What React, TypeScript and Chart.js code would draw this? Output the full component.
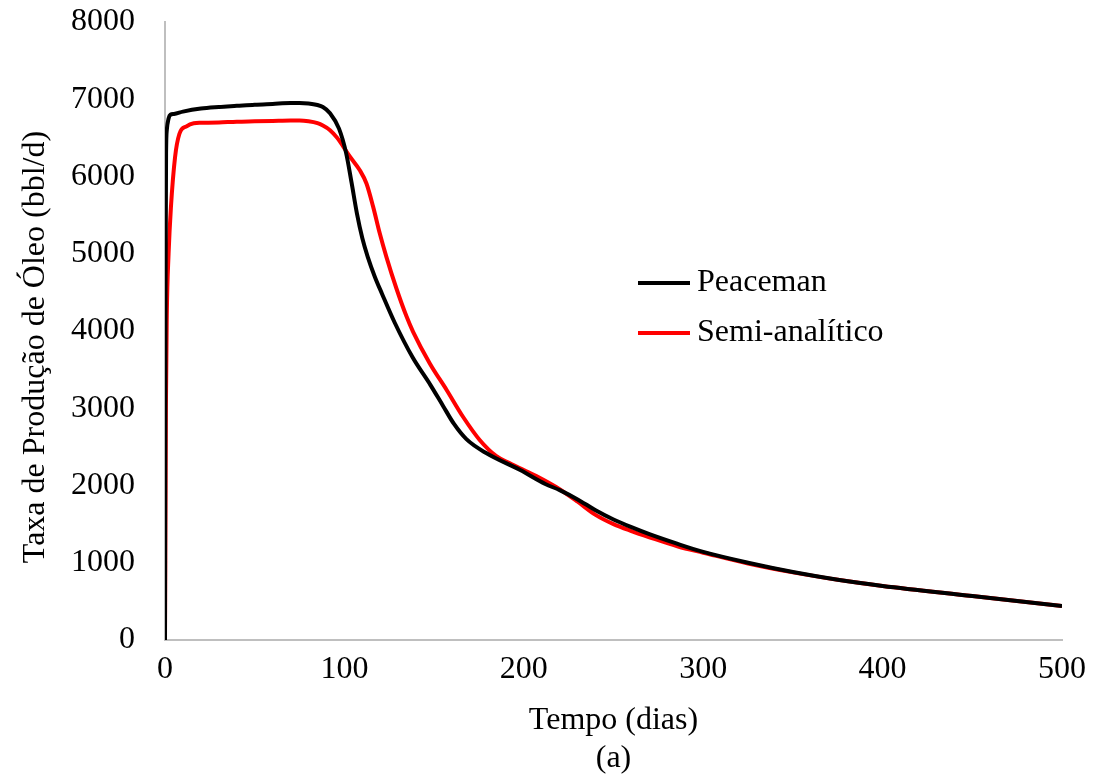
import React, { useEffect, useRef } from 'react';
import { Chart, registerables } from 'chart.js';

Chart.register(...registerables);

const daysPeaceman = [0, 0.3, 0.6, 1, 2, 3, 5, 10, 20, 30, 40, 50, 60, 70, 75, 80, 85, 88, 92, 97, 101, 104, 107, 110, 113, 117, 121, 128, 138, 148, 155, 161, 168, 179, 198, 212, 220, 230, 240, 250, 260, 270, 285, 300, 325, 350, 375, 400, 450, 500];
const ratePeaceman = [0, 4500, 6300, 6600, 6750, 6800, 6810, 6840, 6880, 6900, 6915, 6930, 6940, 6950, 6950, 6945, 6925, 6900, 6820, 6620, 6300, 5920, 5520, 5200, 4960, 4700, 4480, 4110, 3660, 3300, 3030, 2800, 2600, 2420, 2200, 2020, 1940, 1820, 1680, 1560, 1460, 1370, 1250, 1140, 1000, 880, 780, 700, 570, 440];

const daysSemi = [0, 0.5, 1, 2, 3.3, 5.6, 8, 12, 16, 20, 30, 40, 50, 60, 70, 75, 80, 85, 88, 92, 96, 99.3, 103, 108.6, 112.3, 116, 119.7, 123.4, 129, 134.6, 138.3, 147.6, 156.9, 166.1, 175.4, 184.7, 192, 200, 208, 218, 230, 240, 250, 260, 270, 286, 300, 325, 350, 375, 400, 450, 500];
const rateSemi = [0, 3000, 4200, 5000, 5600, 6250, 6550, 6650, 6690, 6695, 6700, 6710, 6715, 6720, 6725, 6725, 6715, 6690, 6660, 6600, 6500, 6390, 6260, 6080, 5910, 5610, 5265, 4960, 4550, 4190, 3990, 3580, 3240, 2890, 2590, 2380, 2290, 2200, 2110, 1980, 1790, 1620, 1500, 1410, 1330, 1210, 1130, 990, 875, 780, 700, 570, 440];

const seriesLabels = ['Peaceman', 'Semi-analítico'];
const seriesColors = ['#000000', '#ff0000'];

const xTitle = ['Tempo (dias)', '(a)'];
const yTitle = 'Taxa de Produção de Óleo (bbl/d)';

const FONT = "'Liberation Serif', 'Times New Roman', serif";
const FS = 32;

const legendPlugin = {
  id: 'customLegend',
  afterDraw(chart: any) {
    const { ctx, chartArea } = chart;
    const x0 = chartArea.left + 473;
    const y0 = chartArea.top + 261;
    ctx.save();
    chart.data.datasets.forEach((ds: any, i: number) => {
      const y = y0 + i * 50;
      ctx.strokeStyle = ds.borderColor;
      ctx.lineWidth = 4;
      ctx.beginPath();
      ctx.moveTo(x0, y);
      ctx.lineTo(x0 + 52, y);
      ctx.stroke();
      ctx.fillStyle = '#000';
      ctx.font = `${FS}px ${FONT}`;
      ctx.textBaseline = 'middle';
      ctx.textAlign = 'left';
      ctx.fillText(ds.label, x0 + 59, y);
    });
    ctx.restore();
  },
};

export default function App() {
  const ref = useRef<HTMLCanvasElement>(null);
  useEffect(() => {
    if (!ref.current) return;
    const chart = new Chart(ref.current, {
      type: 'line',
      data: {
        datasets: [
          {
            label: seriesLabels[0],
            data: daysPeaceman.map((d, i) => ({ x: d, y: ratePeaceman[i] })),
            borderColor: seriesColors[0],
            backgroundColor: seriesColors[0],
            borderWidth: 4,
            pointRadius: 0,
            cubicInterpolationMode: 'monotone',
            fill: false,
          },
          {
            label: seriesLabels[1],
            data: daysSemi.map((d, i) => ({ x: d, y: rateSemi[i] })),
            borderColor: seriesColors[1],
            backgroundColor: seriesColors[1],
            borderWidth: 4,
            pointRadius: 0,
            cubicInterpolationMode: 'monotone',
            fill: false,
          },
        ],
      },
      options: {
        responsive: false,
        animation: false,
        layout: { padding: { left: 0, right: 33, top: 22, bottom: 0 } },
        plugins: { legend: { display: false }, tooltip: { enabled: false } },
        scales: {
          x: {
            type: 'linear',
            min: 0,
            max: 500,
            ticks: { stepSize: 100, color: '#000', font: { family: FONT, size: FS }, padding: 10, maxRotation: 0 },
            grid: { display: false, drawTicks: false },
            border: { display: true, color: '#bfbfbf', width: 2 },
            title: { display: true, text: xTitle, color: '#000', font: { family: FONT, size: FS, lineHeight: 38 / FS }, padding: { top: 0, bottom: 0 } },
            afterFit: (s: any) => { s.height = 138; },
          },
          y: {
            min: 0,
            max: 8000,
            ticks: { stepSize: 1000, color: '#000', font: { family: FONT, size: FS }, padding: 0, callback: (v: any) => String(v) },
            grid: { display: false, drawTicks: true, tickLength: 30, tickColor: 'rgba(0,0,0,0)' },
            border: { display: true, color: '#bfbfbf', width: 2 },
            title: { display: true, text: yTitle + '    ', color: '#000', font: { family: FONT, size: FS, lineHeight: 1.2 }, padding: { top: 16, bottom: 0 } },
            afterFit: (s: any) => { s.width = 165; },
          },
        },
      },
      plugins: [legendPlugin],
    } as any);
    return () => chart.destroy();
  }, []);
  return (
    <div style={{ position: 'absolute', left: 0, top: 0, width: 1096, height: 778, background: '#fff' }}>
      <canvas ref={ref} width={1096} height={778} />
    </div>
  );
}
